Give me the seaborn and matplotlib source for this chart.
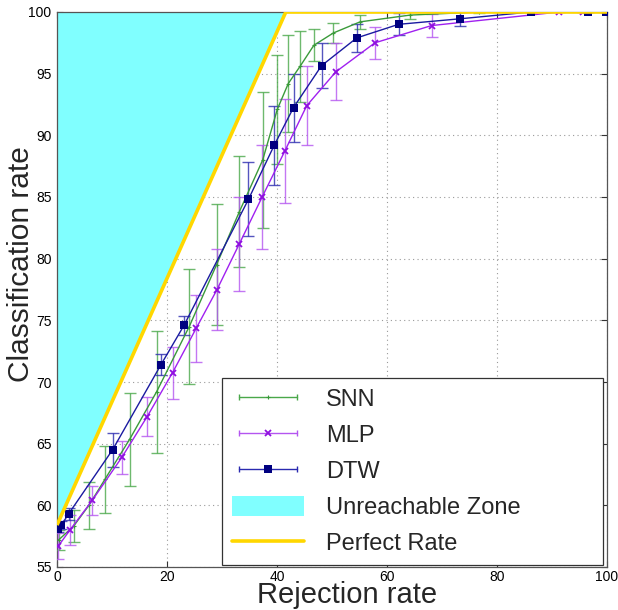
import numpy as np
import pandas as pd
import matplotlib
matplotlib.use("Agg")
import matplotlib.pyplot as plt
import seaborn as sns
from matplotlib.lines import Line2D
from matplotlib.patches import Patch
from matplotlib.legend_handler import HandlerLine2D, HandlerTuple

# ---- data -------------------------------------------------------------
snn_x = [0.3, 3.0, 5.8, 8.7, 13.2, 18.1, 24.05, 29.0, 33.15, 37.4, 40.05,
         42.05, 44.2, 46.7, 50.25, 55.1, 64.2, 76.8, 100.0]
snn_y = [57.2, 58.3, 60.0, 62.1, 65.35, 69.2, 74.5, 79.5, 83.8, 88.0, 92.1,
         94.2, 95.6, 97.3, 98.3, 99.2, 99.75, 100.0, 100.0]
snn_err = [0.8, 1.3, 1.9, 2.7, 3.75, 4.95, 4.7, 4.9, 4.5, 5.5, 4.4,
           3.9, 2.9, 1.3, 0.8, 0.55, 0.3, 0.1, 0.0]

mlp_x = [0.24, 2.36, 6.4, 11.8, 16.4, 21.0, 25.3, 29.1, 33.15, 37.3, 41.45,
         45.4, 50.7, 57.8, 68.1, 91.3, 95.7, 99.8]
mlp_y = [56.7, 58.0, 60.4, 63.9, 67.2, 70.75, 74.35, 77.5, 81.2, 85.0, 88.75,
         92.4, 95.15, 97.5, 98.9, 100.0, 100.0, 100.0]
mlp_err = [1.05, 1.2, 1.2, 1.35, 1.6, 2.1, 2.7, 3.3, 3.8, 4.2, 4.2,
           3.2, 2.3, 1.3, 0.9, 0.0, 0.0, 0.0]

dtw_x = [0.1, 0.8, 2.1, 10.1, 18.9, 23.1, 34.8, 39.5, 43.0, 48.1, 54.5,
         62.1, 73.3, 86.1, 96.5, 99.8]
dtw_y = [58.1, 58.4, 59.3, 64.5, 71.4, 74.6, 84.8, 89.2, 92.25, 95.65, 97.9,
         99.0, 99.45, 100.0, 100.0, 100.0]
dtw_err = [0.3, 0.3, 0.5, 1.4, 0.85, 0.75, 3.0, 3.2, 2.75, 1.8, 1.15,
           0.9, 0.55, 0.0, 0.0, 0.0]

perfect_x = [0.0, 41.6, 100.0]
perfect_y = [58.4, 100.0, 100.0]

x_ticks = [0, 20, 40, 60, 80, 100]
y_ticks = [55, 60, 65, 70, 75, 80, 85, 90, 95, 100]

# ---- style ------------------------------------------------------------
sns.set_theme(style="ticks")
plt.rcParams['font.family'] = ['Liberation Sans', 'DejaVu Sans']

snn_color, snn_ecolor = '#3a9a3a', '#4aa84a'
mlp_color, mlp_ecolor = '#a020f0', '#b455f0'
dtw_color, dtw_ecolor = '#1a1aa0', '#2a2ab0'
dtw_marker = '#000080'
zone_color = '#80ffff'
perfect_color = '#ffd700'

fig = plt.figure(figsize=(6.18, 6.10), dpi=100)
ax = fig.add_axes([57 / 618, 1 - 567 / 610, 550 / 618, 555 / 610])

# unreachable region above the perfect-rejection line
px = np.array(perfect_x)
py = np.array(perfect_y)
ax.fill_between(px, py, 100, color=zone_color, lw=0, zorder=1)

series = [
    ("SNN", snn_x, snn_y, snn_err, snn_color, snn_ecolor, '+', snn_color, 3),
    ("MLP", mlp_x, mlp_y, mlp_err, mlp_color, mlp_ecolor, 'x', '#9010e0', 5),
    ("DTW", dtw_x, dtw_y, dtw_err, dtw_color, dtw_ecolor, 's', dtw_marker, 6),
]
edge_w = {'+': 0.8, 'x': 1.3, 's': 0}

for name, xs, ys, es, col, ecol, mk, mcol, ms in series:
    df = pd.DataFrame({"x": xs, "y": ys, "err": es})
    ax.errorbar(df["x"], df["y"], yerr=df["err"], fmt='none', ecolor=ecol,
                elinewidth=1.0, capsize=4.5, capthick=1.0, alpha=0.8, zorder=3)
    sns.lineplot(data=df, x="x", y="y", ax=ax, color=col, lw=1.0,
                 marker=mk, markersize=ms, markerfacecolor=mcol,
                 markeredgecolor=mcol, markeredgewidth=edge_w[mk],
                 sort=False, estimator=None, zorder=4)

ax.plot(px, py, color=perfect_color, lw=2.6, zorder=6, solid_capstyle='butt')

# ---- axes -------------------------------------------------------------
ax.set_xlim(0, 100)
ax.set_ylim(55, 100)
ax.set_xticks(x_ticks)
ax.set_yticks(y_ticks)
ax.grid(True, linestyle=(0, (1, 3)), color='#9a9a9a', lw=0.8, zorder=0)
ax.set_axisbelow(True)
ax.tick_params(direction='in', top=True, right=True, length=4, width=0.8,
               colors='#333333', labelcolor='black', labelsize=10)
ax.tick_params(axis='x', pad=2.5)
ax.tick_params(axis='y', pad=4)
for s in ax.spines.values():
    s.set_color('#555555')
    s.set_linewidth(0.9)

ax.set_xlabel("Rejection rate", fontsize=21)
ax.set_ylabel("Classification rate", fontsize=21.5)
ax.xaxis.set_label_coords(0.527, -0.0245)
ax.yaxis.set_label_coords(-0.040, 0.546)

# ---- legend -----------------------------------------------------------
handles, hmap = [], {}
for name, xs, ys, es, col, ecol, mk, mcol, ms in series:
    caps = Line2D([], [], color=ecol, lw=1.0, marker='|', markersize=5,
                  markeredgewidth=1.0)
    mark = Line2D([], [], ls='none', marker=mk, markersize=ms,
                  markerfacecolor=mcol, markeredgecolor=mcol,
                  markeredgewidth=edge_w[mk])
    hmap[caps] = HandlerLine2D(numpoints=2)
    hmap[mark] = HandlerLine2D(numpoints=1)
    handles.append((caps, mark))
handles.append(Patch(facecolor=zone_color, edgecolor='none'))
handles.append(Line2D([], [], color=perfect_color, lw=2.6))
hmap[tuple] = HandlerTuple(ndivide=1, pad=0)

labels = ["SNN", "MLP", "DTW", "Unreachable Zone", "Perfect Rate"]
leg = ax.legend(handles, labels, handler_map=hmap, loc='lower left',
                bbox_to_anchor=((222 - 57) / 550, 0.004, (603 - 222) / 550, 0.3),
                mode='expand', borderaxespad=0,
                fontsize=17, handlelength=3.05, handleheight=0.9,
                handletextpad=0.95, labelspacing=0.55, borderpad=0.42,
                fancybox=False, framealpha=1, edgecolor='#333333')
leg.get_frame().set_linewidth(0.9)
leg.set_zorder(10)

fig.savefig("out.png", dpi=100)
